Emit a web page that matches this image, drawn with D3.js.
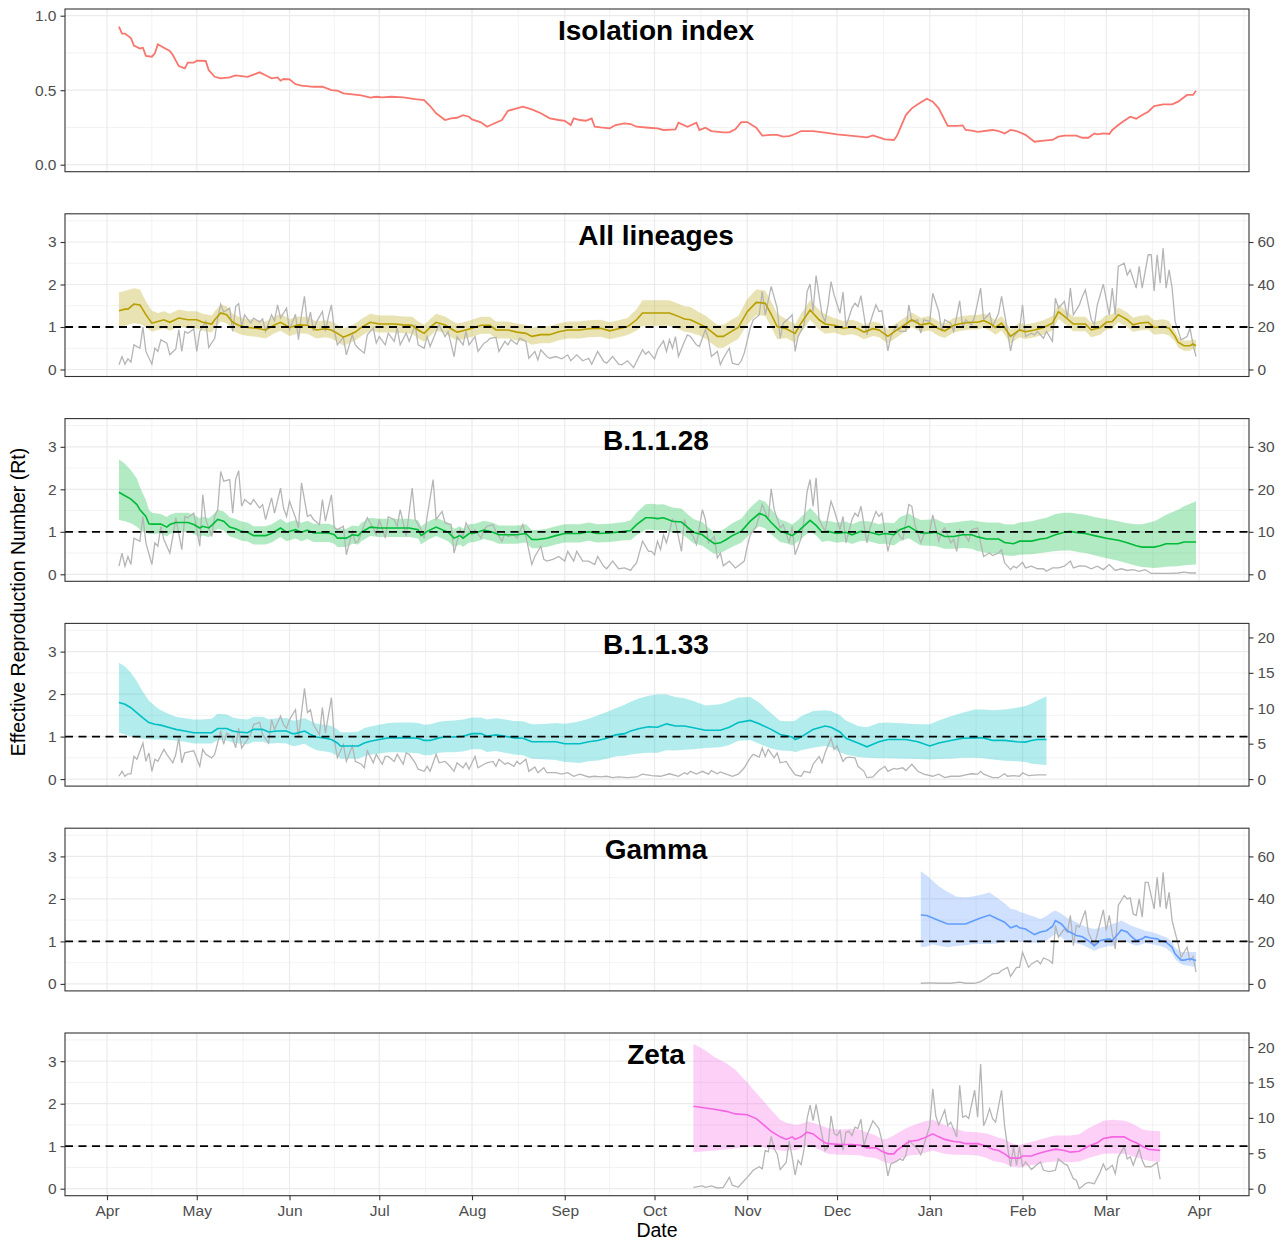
<!DOCTYPE html>
<meta charset="utf-8">
<script src="https://d3js.org/d3.v7.min.js"></script>
<style>
  body { margin: 0; background: #fff; }
  text { font-family: "Liberation Sans", Arial, sans-serif; }
</style>
<body>
<svg id="chart" width="1288" height="1241"></svg>
<script>
// all days are counted from 2020-04-01

// isolation index: [day, value]
const isoIndex = [[4,0.926],[5,0.88],[6,0.88],[8,0.85],[9,0.80],[11,0.78],[12,0.785],[13,0.73],[15,0.725],[16,0.747],[17,0.808],[19,0.785],[21,0.763],[22,0.736],[24,0.662],[26,0.647],[27,0.685],[29,0.685],[30,0.698],[33,0.696],[34,0.635],[36,0.59],[38,0.58],[41,0.586],[43,0.60],[47,0.59],[49,0.604],[51,0.62],[53,0.60],[55,0.58],[57,0.586],[58,0.564],[59,0.575],[61,0.573],[63,0.54],[65,0.53],[69,0.523],[72,0.523],[75,0.50],[77,0.497],[79,0.479],[82,0.472],[85,0.465],[88,0.45],[90,0.456],[92,0.452],[95,0.456],[99,0.452],[103,0.44],[106,0.434],[108,0.394],[110,0.345],[113,0.30],[115,0.311],[117,0.315],[119,0.333],[121,0.322],[122,0.304],[125,0.284],[127,0.255],[129,0.273],[132,0.30],[134,0.362],[137,0.378],[139,0.389],[142,0.371],[145,0.345],[148,0.311],[151,0.30],[153,0.295],[155,0.266],[156,0.311],[158,0.30],[160,0.295],[162,0.311],[163,0.255],[165,0.25],[168,0.244],[170,0.266],[173,0.277],[175,0.273],[177,0.255],[181,0.248],[184,0.244],[186,0.233],[190,0.237],[191,0.282],[194,0.255],[197,0.282],[198,0.233],[200,0.248],[202,0.226],[206,0.217],[208,0.217],[210,0.237],[212,0.286],[214,0.286],[217,0.248],[219,0.195],[222,0.20],[224,0.20],[226,0.188],[228,0.192],[230,0.206],[232,0.226],[236,0.226],[240,0.215],[244,0.204],[250,0.192],[254,0.183],[256,0.197],[258,0.183],[260,0.17],[263,0.166],[264,0.192],[267,0.333],[269,0.378],[271,0.405],[274,0.443],[276,0.423],[278,0.378],[281,0.26],[284,0.26],[286,0.264],[287,0.233],[289,0.228],[291,0.221],[296,0.233],[298,0.226],[300,0.21],[302,0.233],[304,0.226],[307,0.20],[310,0.154],[313,0.161],[316,0.166],[318,0.188],[320,0.195],[324,0.195],[326,0.181],[328,0.181],[330,0.21],[331,0.204],[333,0.21],[335,0.206],[336,0.233],[338,0.266],[340,0.295],[342,0.322],[344,0.309],[346,0.333],[348,0.356],[350,0.394],[353,0.405],[356,0.405],[358,0.423],[361,0.468],[363,0.468],[364,0.497]];

// All lineages Rt
const allDay = [4,6,7,9,11,13,15,17,19,21,24,27,30,32,35,36,38,40,42,44,47,50,53,56,58,61,64,67,70,73,75,77,79,81,83,85,88,91,94,96,99,102,104,106,108,110,113,115,117,119,122,125,128,130,134,137,140,142,145,148,151,154,158,161,165,168,171,174,177,179,185,188,191,193,195,198,200,202,204,206,209,211,214,217,220,222,224,227,230,232,235,238,240,243,246,249,251,253,256,258,261,264,267,269,272,275,278,280,283,286,289,291,293,295,297,299,302,305,307,310,313,316,318,320,323,325,327,329,332,334,336,338,341,343,345,348,350,353,355,357,358,360,362,363,364];
const allRt = [1.38,1.42,1.42,1.54,1.52,1.29,1.09,1.13,1.17,1.11,1.21,1.17,1.17,1.11,1.07,1.17,1.33,1.29,1.11,1.04,0.99,0.97,0.93,1.05,1.11,0.99,1.05,1.04,0.93,0.96,0.93,0.85,0.76,0.82,0.88,0.99,1.11,1.07,1.07,1.07,1.05,1.04,0.93,0.85,0.99,1.11,1.05,0.96,0.88,0.91,0.97,1.04,1.04,0.93,0.93,0.88,0.85,0.78,0.82,0.82,0.89,0.93,0.93,0.96,0.97,0.91,0.96,1.01,1.17,1.33,1.33,1.33,1.25,1.19,1.17,1.07,1.0,0.89,0.78,0.78,0.91,0.99,1.36,1.58,1.56,1.30,1.01,0.96,0.85,1.09,1.40,1.17,1.07,1.04,0.97,1.0,0.96,0.88,0.96,0.93,0.78,0.93,1.07,1.17,1.05,1.09,0.96,0.91,1.04,1.09,1.11,1.11,1.15,1.09,0.99,1.09,0.78,0.93,0.89,0.93,0.99,1.09,1.36,1.25,1.07,1.07,1.07,0.93,0.99,1.11,1.13,1.29,1.17,1.05,1.09,1.11,0.99,1.01,0.97,0.78,0.64,0.56,0.56,0.60,0.56];
const allLo = [1.01,1.03,1.05,1.09,1.07,1.00,0.89,0.93,0.97,0.91,1.01,0.97,0.97,0.91,0.87,0.97,1.13,1.09,0.91,0.84,0.79,0.77,0.73,0.85,0.91,0.79,0.85,0.84,0.73,0.76,0.73,0.65,0.56,0.62,0.68,0.79,0.91,0.87,0.87,0.87,0.85,0.84,0.73,0.65,0.79,0.91,0.85,0.76,0.68,0.71,0.77,0.84,0.84,0.73,0.73,0.68,0.65,0.58,0.62,0.62,0.69,0.73,0.73,0.76,0.77,0.71,0.76,0.81,0.92,1.03,1.03,1.03,0.95,0.89,0.87,0.80,0.73,0.62,0.51,0.51,0.64,0.72,1.06,1.28,1.26,1.00,0.71,0.74,0.63,0.87,1.17,0.94,0.84,0.87,0.80,0.83,0.79,0.71,0.79,0.76,0.61,0.76,0.90,1.00,0.88,0.92,0.79,0.74,0.87,0.92,0.94,0.94,0.98,0.92,0.82,0.92,0.61,0.76,0.72,0.76,0.82,0.92,1.19,1.08,0.90,0.90,0.90,0.76,0.82,0.94,0.96,1.12,1.00,0.88,0.92,0.94,0.82,0.84,0.80,0.66,0.52,0.44,0.44,0.48,0.44];
const allHi = [1.82,1.85,1.87,1.91,1.88,1.60,1.38,1.33,1.37,1.31,1.41,1.37,1.37,1.31,1.27,1.37,1.53,1.49,1.31,1.24,1.19,1.17,1.13,1.25,1.31,1.19,1.25,1.24,1.13,1.16,1.13,1.05,0.96,1.02,1.08,1.19,1.31,1.27,1.27,1.27,1.25,1.24,1.13,1.05,1.19,1.31,1.25,1.16,1.08,1.11,1.17,1.24,1.24,1.13,1.13,1.08,1.05,0.98,1.02,1.02,1.09,1.13,1.13,1.16,1.17,1.11,1.16,1.21,1.42,1.63,1.63,1.63,1.55,1.49,1.47,1.34,1.27,1.16,1.05,1.05,1.18,1.26,1.66,1.88,1.86,1.60,1.31,1.18,1.07,1.31,1.63,1.40,1.30,1.21,1.14,1.17,1.13,1.05,1.13,1.10,0.95,1.10,1.24,1.34,1.22,1.26,1.13,1.08,1.21,1.26,1.28,1.28,1.32,1.26,1.16,1.26,0.95,1.10,1.06,1.10,1.16,1.26,1.53,1.42,1.24,1.24,1.24,1.10,1.16,1.28,1.30,1.46,1.34,1.22,1.26,1.28,1.16,1.18,1.14,0.90,0.76,0.68,0.68,0.72,0.68];

// daily cases: [day, cases]
const allCases = [[4,2.2],[5,6.1],[6,2.5],[7,5.0],[8,3.5],[9,11.6],[11,10],[12,20],[13,8.5],[15,2.5],[16,10],[17,8.5],[18,14],[20,12.4],[21,6.9],[23,9.7],[24,18.7],[25,8.5],[26,17.9],[27,17.1],[29,19.1],[30,8.5],[31,17.9],[33,22.6],[34,10.4],[36,14.7],[37,24.2],[38,30.7],[39,27],[41,28.9],[42,17.9],[43,29.6],[44,31],[45,20.2],[46,25.7],[48,21.8],[49,24.2],[51,22.3],[52,23.8],[53,17.9],[55,25.7],[56,22.9],[57,30.4],[58,24.2],[60,28.9],[61,18.7],[63,26],[64,14],[65,25.7],[66,34.4],[67,21],[68,27],[69,18.2],[70,22.3],[72,27.3],[73,17.9],[74,24.9],[75,30.4],[76,18.2],[77,11.6],[79,15.1],[80,6.9],[82,16.3],[83,11.6],[84,10],[86,7.7],[87,16.3],[89,19.5],[90,12.4],[91,15.5],[93,11.6],[94,17.1],[96,13.2],[97,19.5],[98,11.6],[100,17.1],[101,13.2],[103,21],[104,11.6],[106,10],[107,15.5],[108,10.8],[110,17.9],[111,21],[113,15.5],[114,17.9],[116,6.1],[117,15.5],[119,11.6],[120,17.9],[121,11.6],[123,15.5],[124,8.5],[126,12.4],[127,13.2],[128,14.7],[130,15.1],[131,8.5],[133,13.2],[134,11.6],[135,14],[137,11.9],[138,14.7],[140,13.2],[141,5.3],[143,8.5],[144,4.5],[145,9.3],[147,6.1],[148,5.3],[150,6.1],[152,5],[154,6.9],[155,4.1],[157,6.9],[159,4.1],[161,5.3],[162,2.5],[164,8.5],[166,3.8],[167,3],[169,6.1],[171,2.5],[172,2.2],[174,4.1],[176,0.9],[177,3.8],[179,9.3],[180,7.2],[181,8.5],[183,5],[184,9.3],[186,13.5],[187,8.5],[188,14],[189,10],[190,15.5],[191,6.1],[193,13.2],[194,16.3],[195,15.5],[197,11.6],[198,10.8],[200,18.7],[201,14.7],[202,6.1],[204,8.5],[205,2.2],[206,5.3],[208,10],[209,3],[211,2.2],[212,4.1],[213,7.7],[215,19.5],[216,23.4],[218,25.7],[219,36.7],[220,25.7],[222,39.1],[224,28.9],[225,14.7],[226,21.8],[228,24.2],[229,25.7],[230,8.5],[231,15.5],[233,21],[234,36.7],[235,40.2],[236,27.3],[237,44.2],[239,25.7],[240,22.6],[241,30.4],[242,41.4],[243,35.1],[245,26.5],[246,36.4],[247,20.2],[249,28.9],[250,31.2],[251,29.6],[252,34.8],[254,16.3],[255,21.8],[257,30.4],[258,27.3],[259,27.6],[261,8.8],[262,15.5],[264,21],[265,17.9],[267,17.9],[268,30.4],[269,22.6],[271,23.4],[272,17.1],[273,23.4],[275,22.6],[276,35.9],[278,27.3],[279,17.9],[280,23.4],[282,21.8],[283,17.9],[285,32.3],[286,19.5],[287,23.4],[289,21],[290,24.9],[292,38.3],[293,23.4],[295,26.5],[296,20.2],[298,26.5],[299,34.4],[301,17.9],[302,8.8],[303,15.5],[305,18.7],[306,30.4],[307,15.5],[309,17.1],[310,16.3],[311,17.9],[313,14.7],[314,17.9],[316,13.2],[317,33.6],[318,28.9],[320,32],[321,24.2],[322,38.3],[323,25.7],[325,30.4],[326,34.4],[327,37.5],[329,23.4],[330,21],[331,30.4],[333,40.2],[335,25.7],[336,38.3],[337,25.7],[338,48.5],[340,50],[341,44.5],[342,46.9],[344,38.3],[345,48.5],[346,38.3],[348,54],[349,54],[350,37],[351,54],[352,40.6],[353,57.1],[354,38.3],[355,46.9],[356,38.3],[357,22.6],[359,14],[361,15.5],[362,19.5],[363,11.6],[364,6.1]];

// lineage Rt: [day, Rt, lower, upper]
const b28Rt = [[4,1.93,1.28,2.71],[6,1.85,1.25,2.60],[8,1.77,1.20,2.45],[10,1.64,1.12,2.25],[11,1.52,1.05,2.05],[13,1.36,0.98,1.75],[14,1.19,0.95,1.52],[15,1.18,0.95,1.45],[18,1.18,0.96,1.42],[20,1.11,0.89,1.35],[21,1.17,0.95,1.40],[23,1.22,1.00,1.45],[27,1.22,1.00,1.45],[29,1.17,0.95,1.40],[31,1.09,0.87,1.32],[32,1.13,0.91,1.36],[34,1.09,0.87,1.32],[35,1.15,0.93,1.38],[37,1.29,1.07,1.52],[39,1.25,1.03,1.48],[41,1.11,0.89,1.34],[43,1.07,0.85,1.30],[45,1.01,0.79,1.24],[47,0.99,0.77,1.22],[49,0.91,0.70,1.13],[53,0.91,0.70,1.13],[55,0.96,0.75,1.18],[58,1.09,0.88,1.31],[60,0.99,0.78,1.21],[63,1.05,0.84,1.27],[65,0.99,0.78,1.21],[67,1.04,0.83,1.26],[69,0.97,0.76,1.19],[74,0.97,0.76,1.19],[76,0.93,0.72,1.15],[77,0.85,0.64,1.07],[80,0.85,0.64,1.07],[82,0.93,0.72,1.15],[84,0.91,0.70,1.13],[85,0.99,0.78,1.21],[88,1.11,0.90,1.33],[91,1.09,0.88,1.31],[96,1.09,0.88,1.31],[101,1.09,0.88,1.31],[104,1.05,0.84,1.27],[105,0.91,0.70,1.13],[107,1.01,0.80,1.23],[110,1.11,0.90,1.33],[112,1.05,0.84,1.27],[114,0.99,0.78,1.21],[116,0.85,0.64,1.07],[118,0.91,0.70,1.13],[119,0.85,0.64,1.07],[121,0.96,0.75,1.18],[123,0.97,0.76,1.19],[126,1.04,0.83,1.26],[129,0.99,0.78,1.21],[131,0.93,0.72,1.15],[137,0.93,0.72,1.15],[140,0.96,0.75,1.18],[142,0.82,0.61,1.04],[144,0.82,0.61,1.04],[147,0.85,0.64,1.07],[150,0.91,0.70,1.13],[153,0.96,0.75,1.18],[158,0.96,0.75,1.18],[161,1.00,0.79,1.22],[164,0.96,0.75,1.18],[168,0.97,0.76,1.19],[173,1.01,0.80,1.23],[175,1.03,0.80,1.27],[177,1.17,0.92,1.45],[180,1.33,1.05,1.65],[182,1.33,1.05,1.66],[184,1.31,1.03,1.64],[186,1.33,1.05,1.65],[189,1.25,0.98,1.57],[192,1.23,0.96,1.55],[194,1.11,0.85,1.42],[196,0.99,0.73,1.30],[199,0.93,0.67,1.23],[201,0.82,0.57,1.10],[203,0.72,0.48,0.99],[205,0.74,0.50,1.01],[207,0.82,0.57,1.10],[209,0.91,0.65,1.20],[212,1.01,0.74,1.31],[215,1.25,0.96,1.57],[218,1.43,1.13,1.76],[220,1.38,1.08,1.71],[222,1.22,0.94,1.53],[225,1.01,0.76,1.29],[227,0.97,0.73,1.24],[229,0.91,0.68,1.17],[231,1.01,0.77,1.28],[235,1.27,1.01,1.56],[237,1.15,0.91,1.42],[239,0.99,0.76,1.25],[241,1.01,0.79,1.26],[244,0.96,0.74,1.21],[247,0.99,0.77,1.24],[249,0.93,0.71,1.18],[252,1.01,0.79,1.26],[255,0.99,0.77,1.24],[258,0.93,0.71,1.18],[260,0.96,0.72,1.22],[263,0.93,0.68,1.20],[265,1.05,0.78,1.34],[268,1.13,0.85,1.43],[270,1.04,0.76,1.34],[272,0.97,0.68,1.28],[275,0.97,0.67,1.29],[277,0.99,0.66,1.30],[280,0.89,0.60,1.20],[283,0.89,0.60,1.22],[286,0.93,0.62,1.25],[289,0.93,0.60,1.27],[291,0.88,0.55,1.25],[294,0.83,0.50,1.22],[298,0.83,0.48,1.22],[300,0.75,0.45,1.18],[303,0.72,0.43,1.17],[305,0.78,0.46,1.22],[309,0.78,0.47,1.25],[312,0.83,0.50,1.30],[314,0.85,0.52,1.33],[317,0.93,0.55,1.42],[320,0.99,0.56,1.45],[322,1.01,0.56,1.45],[325,0.97,0.52,1.42],[327,0.96,0.50,1.40],[330,0.91,0.45,1.35],[334,0.85,0.38,1.30],[338,0.80,0.32,1.25],[341,0.74,0.26,1.20],[344,0.67,0.20,1.18],[346,0.64,0.17,1.18],[350,0.64,0.15,1.25],[352,0.67,0.16,1.32],[354,0.72,0.18,1.40],[358,0.72,0.19,1.52],[360,0.76,0.21,1.60],[364,0.76,0.23,1.72]];

const b28Cases = [[4,1.9],[5,5],[6,1.9],[7,4.2],[8,2.3],[9,8.5],[11,7.8],[12,13.6],[13,7.4],[15,2.3],[16,7.4],[17,6.6],[18,11.3],[19,8.2],[21,5],[22,8.9],[23,13.3],[25,5.8],[26,13.6],[27,13.3],[29,14.4],[31,6.6],[32,18.7],[33,12.9],[35,8.9],[36,13.6],[37,15.2],[38,24.2],[39,21.9],[41,22.3],[42,14.4],[43,22.3],[44,24.4],[45,16],[46,17.6],[48,16.4],[49,17.6],[51,15.6],[52,16.4],[53,12.9],[55,18],[56,14.4],[58,20.3],[59,15.6],[60,13.6],[61,17.2],[63,13.3],[64,10.9],[65,21.5],[67,13.6],[68,14],[69,12.9],[71,11.7],[72,17.6],[73,12.5],[75,18.7],[76,10.9],[77,10.5],[79,11.3],[80,4.6],[82,10.1],[83,7.4],[84,7.8],[86,11.7],[87,13.3],[89,10.9],[90,9.3],[91,12.9],[93,8.5],[94,13.5],[96,12.9],[97,11.3],[98,15.2],[100,8.9],[102,20.3],[103,12.9],[105,10.5],[106,8.5],[107,13.6],[109,22.3],[110,12.9],[112,14.8],[113,12.1],[115,11.7],[116,5],[118,10.5],[119,8.9],[120,12.1],[122,9.3],[123,10.5],[125,8.5],[126,10.5],[127,11.3],[129,11.7],[130,10.1],[132,7.8],[133,9.7],[134,8.9],[136,9.3],[137,8.5],[139,11.7],[140,8.9],[142,2.3],[143,4.2],[145,6.6],[146,3.5],[147,3.1],[149,3.5],[151,4.2],[153,3.1],[154,5.4],[156,3.1],[157,5.4],[159,3.1],[161,3.1],[163,2.3],[164,4.2],[166,1.9],[167,1.3],[169,3.1],[171,1.3],[173,1.5],[175,0.9],[176,1.9],[177,2.7],[179,7.8],[181,5.4],[182,5.4],[183,4.6],[184,7.8],[185,5.8],[186,9.3],[187,7.4],[189,12.9],[190,12.1],[192,5.4],[193,12.9],[194,10.5],[196,8.9],[197,7],[199,15.2],[200,12.9],[201,7.4],[203,8.9],[204,3.8],[205,5],[206,2],[208,3.1],[210,1.5],[211,2],[213,3.1],[214,6.6],[215,9.3],[217,11.3],[218,13.6],[219,16.4],[221,12.9],[222,20.1],[223,15.2],[225,10.9],[226,11.7],[228,7.4],[229,11.3],[230,4.6],[232,8.5],[233,12.9],[234,19.5],[235,22.3],[236,16],[237,22.7],[238,12.9],[240,10.1],[241,13.6],[242,17.2],[243,15.2],[245,10.5],[246,13.6],[247,7.4],[249,12.9],[250,14.4],[251,13.6],[252,16],[254,7.4],[255,10.9],[257,14.8],[258,13.6],[259,14.4],[261,5.4],[262,8.2],[264,10.5],[265,8.9],[266,8.2],[268,16.4],[269,16],[270,11.7],[272,7.4],[273,9.3],[275,10.1],[276,14],[278,7.8],[279,10.1],[280,10.9],[282,7.4],[283,8.2],[284,5.4],[285,10.5],[287,8.9],[288,7.8],[289,10.5],[291,10.9],[292,7.4],[293,4.2],[295,5],[296,4.4],[298,5],[299,5.8],[300,2.7],[302,1.1],[303,1.9],[304,1.5],[306,2.8],[307,1.5],[309,1.9],[311,1.3],[313,1.3],[314,0.7],[316,1.5],[318,1.5],[320,1.9],[322,3.1],[323,1.5],[325,2],[327,1.9],[329,1.3],[331,1.9],[333,1.1],[335,2.3],[337,0.9],[339,1.3],[341,0.9],[343,1.1],[345,0.7],[347,1.1],[349,0.2],[352,0.2],[355,0.2],[358,0.3],[360,0.5],[362,0.3],[364,0.3]];

const b33Rt = [[4,1.80,1.09,2.74],[6,1.76,1.05,2.65],[8,1.68,1.00,2.50],[10,1.56,0.97,2.30],[12,1.44,0.95,2.05],[14,1.33,0.94,1.85],[16,1.29,0.93,1.72],[18,1.27,0.93,1.62],[21,1.21,0.92,1.52],[23,1.17,0.90,1.47],[26,1.13,0.88,1.43],[29,1.09,0.84,1.40],[32,1.09,0.84,1.40],[35,1.09,0.84,1.42],[37,1.19,0.92,1.54],[40,1.19,0.91,1.52],[42,1.13,0.86,1.45],[44,1.11,0.84,1.42],[47,1.09,0.82,1.40],[49,1.17,0.88,1.47],[52,1.17,0.88,1.47],[54,1.11,0.83,1.41],[57,1.13,0.85,1.43],[60,1.13,0.84,1.44],[62,1.07,0.78,1.38],[63,1.07,0.78,1.38],[66,1.13,0.83,1.44],[68,1.05,0.75,1.37],[70,0.99,0.68,1.31],[73,0.96,0.65,1.28],[75,0.93,0.62,1.25],[77,0.85,0.55,1.17],[78,0.78,0.48,1.10],[81,0.78,0.48,1.10],[84,0.78,0.48,1.12],[86,0.85,0.54,1.20],[88,0.89,0.57,1.24],[91,0.93,0.60,1.28],[94,0.97,0.63,1.32],[97,0.97,0.63,1.33],[101,0.97,0.62,1.33],[104,0.96,0.61,1.32],[106,0.91,0.56,1.28],[108,0.91,0.56,1.29],[111,0.97,0.62,1.35],[113,0.99,0.63,1.37],[116,0.99,0.63,1.38],[119,1.01,0.65,1.40],[122,1.07,0.70,1.45],[125,1.07,0.70,1.45],[127,1.01,0.64,1.40],[130,1.04,0.66,1.43],[133,1.01,0.62,1.40],[136,0.97,0.58,1.37],[139,0.96,0.56,1.36],[142,0.88,0.48,1.29],[144,0.88,0.47,1.29],[147,0.88,0.46,1.30],[150,0.88,0.45,1.32],[153,0.83,0.40,1.30],[156,0.83,0.39,1.33],[158,0.83,0.38,1.36],[161,0.88,0.42,1.42],[164,0.91,0.44,1.50],[167,0.96,0.48,1.58],[170,1.04,0.53,1.67],[173,1.07,0.55,1.75],[175,1.13,0.58,1.82],[178,1.19,0.60,1.90],[181,1.23,0.62,1.96],[184,1.22,0.62,1.99],[187,1.30,0.68,1.99],[190,1.25,0.67,1.93],[193,1.25,0.69,1.90],[196,1.21,0.70,1.84],[200,1.15,0.73,1.73],[205,1.15,0.75,1.76],[208,1.22,0.80,1.83],[211,1.33,0.90,1.92],[215,1.38,0.92,1.93],[218,1.30,0.83,1.80],[222,1.17,0.72,1.55],[225,1.05,0.67,1.37],[229,0.99,0.66,1.36],[230,0.93,0.63,1.38],[232,0.99,0.68,1.48],[236,1.17,0.74,1.60],[240,1.25,0.78,1.62],[242,1.22,0.75,1.60],[245,1.11,0.63,1.50],[247,0.96,0.58,1.38],[251,0.85,0.52,1.25],[254,0.76,0.50,1.22],[258,0.88,0.49,1.32],[261,0.93,0.49,1.33],[267,0.93,0.48,1.31],[271,0.88,0.47,1.29],[275,0.78,0.46,1.29],[278,0.85,0.47,1.38],[282,0.91,0.48,1.48],[286,0.96,0.50,1.56],[290,0.97,0.50,1.64],[293,0.97,0.49,1.64],[296,0.91,0.46,1.62],[300,0.91,0.43,1.64],[304,0.88,0.42,1.68],[307,0.87,0.40,1.72],[309,0.91,0.36,1.78],[311,0.93,0.35,1.85],[314,0.93,0.33,1.95]];

const b33Cases = [[4,0.4],[5,1.1],[6,0.4],[7,0.75],[8,0.75],[9,3.2],[10,2.8],[12,5.1],[13,2.5],[14,3.7],[15,1.1],[16,2.8],[17,2.5],[19,4.2],[20,3.5],[22,2.3],[23,3.5],[24,5.8],[25,2.3],[26,3.7],[28,3.9],[29,4.0],[31,1.8],[32,4.2],[33,3.5],[35,3],[36,3.5],[38,6.8],[39,4.9],[40,6.5],[42,5.8],[43,4.4],[44,7.2],[45,4.4],[47,5.6],[48,6.3],[49,7.7],[51,8],[52,6.3],[54,5.1],[55,8.4],[56,7],[58,8.9],[59,7.7],[60,7.2],[61,8.4],[63,9.8],[64,5.8],[66,12.8],[67,9.4],[68,9.8],[69,7.7],[71,6.3],[72,10.1],[73,6.5],[75,11.5],[76,5.6],[77,3],[79,4.9],[80,2.5],[82,4.7],[83,2.5],[85,2.1],[86,1.6],[87,4],[89,2.3],[90,3.5],[92,2.1],[93,3.2],[94,3.2],[96,2.5],[97,3.5],[99,2.1],[100,3.7],[101,3.5],[103,2.3],[104,1.4],[106,1.1],[107,1.8],[108,1.1],[110,3.5],[111,2.3],[113,2.5],[114,2.1],[116,1.1],[117,2.3],[119,1.6],[120,2.3],[121,1.4],[123,3.2],[124,1.6],[126,2.1],[127,2.3],[129,2.5],[130,1.8],[131,2.8],[133,2.1],[134,2.3],[136,1.8],[137,2.5],[138,2.1],[140,2.8],[141,1.1],[143,1.7],[144,0.9],[146,1.6],[147,0.9],[150,0.9],[152,0.7],[154,0.9],[156,0.4],[158,0.7],[161,0.3],[163,0.4],[165,0.3],[167,0.4],[169,0.2],[171,0.3],[174,0.2],[177,0.3],[179,0.7],[182,0.5],[185,0.4],[188,0.75],[191,0.4],[193,0.9],[194,0.7],[195,1.1],[197,0.7],[199,1.1],[201,0.7],[202,1.2],[204,0.75],[205,1.0],[207,0.7],[209,0.4],[211,0.7],[213,1.6],[215,3],[216,3.5],[218,3.1],[219,4.4],[220,3.2],[221,4.2],[223,3],[224,3.7],[225,2.3],[227,2.5],[228,1.8],[230,0.6],[232,0.4],[233,1.1],[235,0.9],[236,2.1],[238,3.2],[239,2.3],[240,3.7],[242,5.8],[243,4.2],[244,4.7],[246,2.5],[247,3],[248,3.1],[250,3],[251,1.8],[253,1.1],[254,0.2],[256,0.3],[258,1.2],[260,1.8],[261,1.1],[263,1.5],[264,1.4],[266,1.6],[267,1.2],[269,2.1],[270,1.6],[271,1.1],[273,0.7],[276,0.4],[278,0.7],[280,0.2],[282,0.4],[285,0.4],[287,0.6],[289,0.75],[291,0.7],[292,1.1],[293,0.7],[296,0.2],[298,0.2],[300,0.75],[301,0.4],[303,0.5],[305,0.4],[306,0.9],[308,0.5],[311,0.6],[314,0.6]];

const gammaRt = [[272,1.62,0.86,2.65],[274,1.61,0.88,2.55],[276,1.55,0.93,2.43],[278,1.49,0.90,2.30],[281,1.41,0.86,2.16],[284,1.41,0.90,2.05],[287,1.41,0.91,2.04],[289,1.47,0.93,2.05],[292,1.55,0.94,2.10],[295,1.62,0.94,2.15],[297,1.55,0.95,2.05],[300,1.45,0.98,1.90],[302,1.32,1.00,1.77],[304,1.37,1.00,1.74],[305,1.32,0.99,1.70],[307,1.29,0.98,1.65],[310,1.16,0.97,1.58],[312,1.22,0.96,1.53],[314,1.25,1.02,1.60],[316,1.35,1.12,1.70],[317,1.49,1.18,1.73],[319,1.41,1.10,1.65],[321,1.25,1.00,1.55],[324,1.14,0.95,1.45],[326,1.11,0.92,1.38],[328,1.02,0.85,1.32],[330,0.90,0.78,1.29],[332,1.02,0.84,1.32],[335,1.06,0.90,1.38],[336,1.02,0.88,1.41],[338,1.18,1.00,1.45],[339,1.27,1.02,1.49],[341,1.22,0.98,1.42],[342,1.14,0.95,1.38],[344,1.02,0.90,1.33],[346,1.06,0.93,1.28],[347,1.11,0.96,1.25],[349,1.08,0.94,1.22],[351,1.06,0.91,1.18],[352,1.02,0.89,1.15],[354,0.98,0.84,1.10],[356,0.86,0.72,0.99],[357,0.71,0.58,0.85],[359,0.56,0.47,0.75],[360,0.56,0.44,0.75],[362,0.59,0.42,0.75],[364,0.55,0.39,0.75]];

const gammaCases = [[272,0.3],[275,0.5],[278,0.3],[282,0.3],[285,0.8],[287,0.3],[290,0.3],[292,1.1],[294,2.8],[296,4.7],[298,5],[299,6.3],[301,7.8],[302,3.5],[304,7.8],[305,7.8],[306,14.9],[308,7.8],[309,9.4],[311,11],[312,9.4],[313,12.2],[315,11],[316,9.7],[317,27.5],[318,22],[320,25.9],[321,24.3],[322,32.2],[323,18],[324,27.5],[325,26.7],[327,34.5],[328,24.3],[330,18],[331,23.5],[333,34.8],[334,25.1],[335,32.2],[336,23.5],[337,16.5],[338,36.9],[340,41.6],[341,40],[342,40.5],[343,32.9],[344,32.2],[345,40],[346,31.4],[347,47.8],[348,47.8],[350,35.3],[351,50.2],[352,36.1],[353,52.5],[354,35.3],[355,43.1],[356,29.8],[358,18.8],[359,12.5],[360,14.9],[361,17.3],[362,11],[363,12.9],[364,5.5]];

const zetaRt = [[196,1.94,0.86,3.41],[200,1.90,0.88,3.25],[203,1.87,0.90,3.10],[207,1.82,0.92,2.95],[210,1.76,0.95,2.80],[214,1.74,0.98,2.50],[217,1.65,1.00,2.25],[219,1.53,0.98,2.10],[222,1.35,0.92,1.85],[225,1.22,0.90,1.62],[227,1.16,0.88,1.55],[229,1.22,0.92,1.52],[230,1.16,0.90,1.50],[232,1.22,0.95,1.52],[234,1.33,1.02,1.58],[236,1.29,0.98,1.55],[238,1.18,0.92,1.50],[240,1.08,0.85,1.45],[241,1.06,0.82,1.42],[245,1.04,0.80,1.39],[249,1.04,0.79,1.41],[252,1.02,0.78,1.38],[254,0.96,0.74,1.32],[257,0.96,0.72,1.25],[259,0.88,0.65,1.16],[261,0.82,0.60,1.18],[263,0.82,0.60,1.25],[264,0.90,0.66,1.30],[266,1.00,0.72,1.38],[268,1.11,0.78,1.45],[271,1.14,0.80,1.53],[273,1.19,0.84,1.58],[276,1.29,0.90,1.62],[278,1.22,0.86,1.56],[280,1.16,0.82,1.50],[283,1.11,0.80,1.43],[285,1.10,0.80,1.38],[287,1.06,0.80,1.34],[291,1.06,0.78,1.33],[294,1.00,0.72,1.30],[296,0.93,0.66,1.25],[298,0.90,0.63,1.20],[300,0.82,0.60,1.17],[302,0.72,0.52,1.08],[305,0.72,0.50,1.02],[306,0.77,0.52,1.05],[309,0.77,0.55,1.10],[311,0.82,0.57,1.14],[314,0.88,0.62,1.20],[317,0.93,0.64,1.25],[320,0.90,0.63,1.25],[322,0.86,0.62,1.25],[325,0.88,0.64,1.28],[328,1.00,0.72,1.42],[331,1.08,0.78,1.52],[333,1.18,0.82,1.60],[336,1.22,0.83,1.62],[340,1.22,0.82,1.60],[342,1.14,0.78,1.55],[344,1.08,0.74,1.48],[346,1.00,0.70,1.40],[348,0.93,0.66,1.37],[352,0.90,0.63,1.35]];

const zetaCases = [[196,0.2],[199,0.4],[200,0.2],[202,0.4],[204,0.1],[206,0.2],[208,1.6],[209,0.5],[211,0.2],[212,0.7],[214,1.6],[216,2.6],[218,3.1],[219,2.8],[220,5.4],[221,5.2],[222,7.4],[223,5.6],[224,4.9],[225,2.7],[227,3.7],[228,6.7],[229,4.5],[230,1.9],[231,4],[232,3.4],[233,5.6],[234,9.9],[235,11.8],[236,9.6],[237,11.9],[238,9.6],[240,5.4],[241,5.9],[242,10.3],[243,7.8],[244,7.5],[245,8.2],[246,5.4],[247,8],[248,8.1],[249,7.5],[250,8.7],[251,8.5],[252,9.8],[253,6.1],[254,7.5],[256,9.6],[258,8.5],[259,6.8],[260,4.5],[261,1.8],[262,3.5],[264,3.9],[265,4.2],[266,4],[267,4.7],[268,6.8],[269,6.4],[271,5.6],[272,4.8],[273,6.1],[275,8.9],[276,14.1],[277,10.3],[278,9],[280,11.1],[281,8.9],[282,9.4],[284,7.3],[285,14.6],[286,10.1],[287,10.3],[288,9.9],[290,13.9],[291,10.1],[292,17.6],[293,8.9],[294,9.9],[295,11.3],[296,9.9],[297,9.4],[299,13.9],[300,8.9],[301,5.9],[302,3.1],[303,5.9],[304,3.3],[305,5.9],[306,3.1],[307,3.8],[309,2.7],[310,3.1],[312,3.8],[313,2.6],[315,2.4],[317,2.6],[318,4.2],[320,3.5],[321,3.3],[323,1.4],[324,1.2],[325,0],[327,0.7],[328,0.9],[330,0.7],[332,2.4],[333,3.5],[334,2.6],[336,3.3],[337,2.1],[338,4.5],[340,5.9],[341,4.2],[342,4.5],[343,3.3],[345,5.6],[346,4],[347,3.1],[349,3.1],[351,3.7],[352,1.3]];

const titles = ["Isolation index", "All lineages", "B.1.1.28", "B.1.1.33", "Gamma", "Zeta"];
const colors = ["#F8766D", "#B79F00", "#00BA38", "#00BFC4", "#619CFF", "#F564E3"];
const isoTicks = [0, 0.5, 1.0];
const rtTicks = [0, 1, 2, 3];
const caseFactor = [null, 20, 10, 6, 20, 6];
const rightTicks = [null, [0,20,40,60], [0,10,20,30], [0,5,10,15,20], [0,20,40,60], [0,5,10,15,20]];

const allLineagesRt = d3.zip(allDay, allRt, allLo, allHi);
const rtSeries = [null, allLineagesRt, b28Rt, b33Rt, gammaRt, zetaRt];
const caseSeries = [null, allCases, b28Cases, b33Cases, gammaCases, zetaCases];

// layout
const svg = d3.select("#chart");
const left = 65, right = 1249, panelH = 162.7, step = 204.8;
const base = Date.UTC(2020, 3, 1);
const toDate = d => new Date(base + d * 864e5);
const font = "Liberation Sans, Arial, sans-serif";

const x = d3.scaleUtc().domain([toDate(-14.04), toDate(381.7)]).range([left, right]);
const [x0, x1] = x.domain();
const allMonths = d3.utcMonth.range(toDate(-45), toDate(420));
const majorX = allMonths.filter(d => d >= x0 && d <= x1);
const minorX = d3.pairs(allMonths, (a, b) => new Date((+a + +b) / 2)).filter(d => d >= x0 && d <= x1);

const isoDomain = [-0.047, 1.045];
const rtDomain = [-0.165, 3.664];

function styleAxis(g) {
  g.attr("font-family", font).attr("font-size", 15.5);
  g.select(".domain").remove();
  g.selectAll(".tick line").attr("stroke", "#333333").attr("stroke-width", 1.1);
  g.selectAll(".tick text").attr("fill", "#4D4D4D");
}

titles.forEach((title, i) => {
  const top = 9 + i * step, bottom = top + panelH;
  const iso = i === 0;
  const y = d3.scaleLinear().domain(iso ? isoDomain : rtDomain).range([bottom, top]);
  const majorY = iso ? isoTicks : rtTicks;
  const minorY = iso ? [0.25, 0.75] : [0.5, 1.5, 2.5, 3.5];
  const g = svg.append("g");

  // grid
  g.append("g").selectAll("line").data(minorX).join("line")
    .attr("x1", d => x(d)).attr("x2", d => x(d)).attr("y1", top).attr("y2", bottom)
    .attr("stroke", "#EBEBEB").attr("stroke-width", 0.6);
  g.append("g").selectAll("line").data(minorY).join("line")
    .attr("x1", left).attr("x2", right).attr("y1", d => y(d)).attr("y2", d => y(d))
    .attr("stroke", "#EBEBEB").attr("stroke-width", 0.6);
  g.append("g").selectAll("line").data(majorX).join("line")
    .attr("x1", d => x(d)).attr("x2", d => x(d)).attr("y1", top).attr("y2", bottom)
    .attr("stroke", "#EBEBEB").attr("stroke-width", 1.2);
  g.append("g").selectAll("line").data(majorY).join("line")
    .attr("x1", left).attr("x2", right).attr("y1", d => y(d)).attr("y2", d => y(d))
    .attr("stroke", "#EBEBEB").attr("stroke-width", 1.2);

  if (iso) {
    g.append("path").datum(isoIndex)
      .attr("fill", "none").attr("stroke", colors[0]).attr("stroke-width", 1.8)
      .attr("d", d3.line().x(d => x(toDate(d[0]))).y(d => y(d[1])));
  } else {
    const f = caseFactor[i];
    const y2 = d3.scaleLinear().domain(rtDomain.map(v => v * f)).range([bottom, top]);
    g.append("path").datum(rtSeries[i])
      .attr("fill", colors[i]).attr("fill-opacity", 0.3)
      .attr("d", d3.area().x(d => x(toDate(d[0]))).y0(d => y(d[2])).y1(d => y(d[3])));
    g.append("path").datum(caseSeries[i])
      .attr("fill", "none").attr("stroke", "#B5B5B5").attr("stroke-width", 1.3)
      .attr("d", d3.line().x(d => x(toDate(d[0]))).y(d => y2(d[1])));
    g.append("path").datum(rtSeries[i])
      .attr("fill", "none").attr("stroke", colors[i]).attr("stroke-width", 1.6)
      .attr("d", d3.line().x(d => x(toDate(d[0]))).y(d => y(d[1])));
    g.append("line")
      .attr("x1", left).attr("x2", right).attr("y1", y(1)).attr("y2", y(1))
      .attr("stroke", "#000").attr("stroke-width", 1.8).attr("stroke-dasharray", "8,5.5");

    const ra = g.append("g").attr("transform", `translate(${right},0)`)
      .call(d3.axisRight(y2).tickValues(rightTicks[i]).tickSize(4.5).tickPadding(4));
    styleAxis(ra);
  }

  g.append("rect")
    .attr("x", left).attr("y", top).attr("width", right - left).attr("height", panelH)
    .attr("fill", "none").attr("stroke", "#333333").attr("stroke-width", 1.1);

  const la = g.append("g").attr("transform", `translate(${left},0)`)
    .call(d3.axisLeft(y).tickValues(majorY).tickSize(4.5).tickPadding(4)
      .tickFormat(iso ? d3.format(".1f") : d3.format("d")));
  styleAxis(la);

  if (i === titles.length - 1) {
    const ba = g.append("g").attr("transform", `translate(0,${bottom})`)
      .call(d3.axisBottom(x).tickValues(majorX).tickSize(4.5).tickPadding(5)
        .tickFormat(d3.utcFormat("%b")));
    styleAxis(ba);
  }

  g.append("text")
    .attr("x", 656).attr("y", top + 31)
    .attr("text-anchor", "middle")
    .attr("font-size", 28).attr("font-weight", "bold").attr("fill", "#000")
    .text(title);
});

svg.append("text")
  .attr("transform", "translate(18,602) rotate(-90)")
  .attr("text-anchor", "middle").attr("dy", "0.36em")
  .attr("font-size", 19.5).attr("fill", "#000")
  .text("Effective Reproduction Number (Rt)");

svg.append("text")
  .attr("x", 657).attr("y", 1237)
  .attr("text-anchor", "middle")
  .attr("font-size", 19.5).attr("fill", "#000")
  .text("Date");
</script>
</body>
